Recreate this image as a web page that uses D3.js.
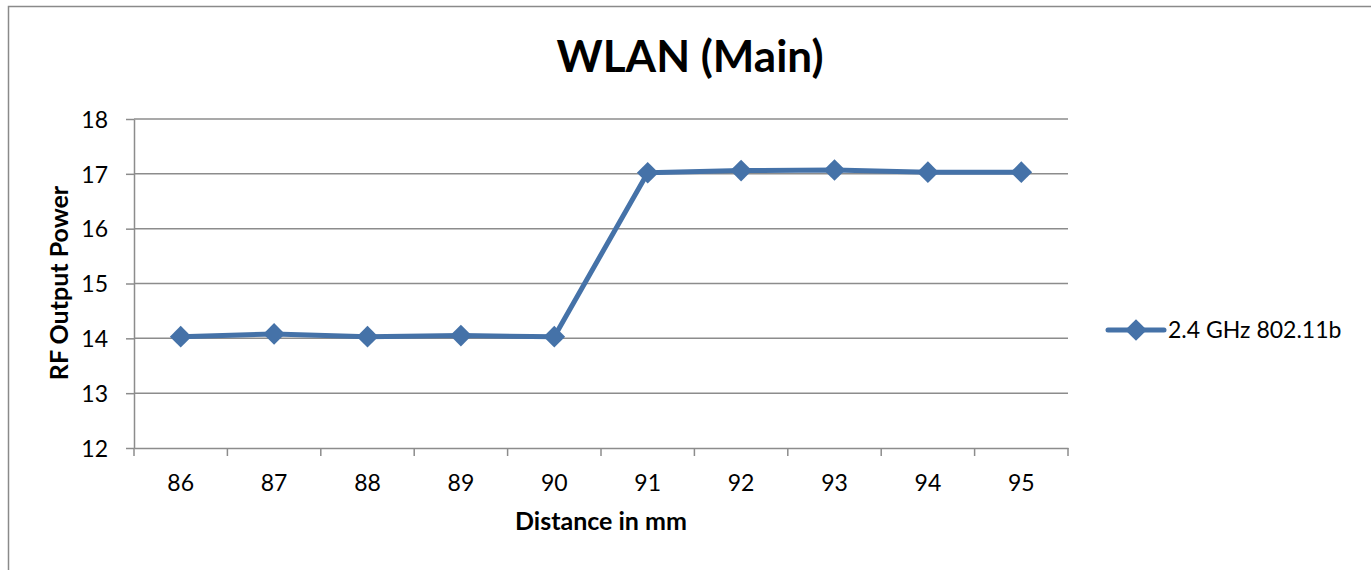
<!DOCTYPE html>
<html>
<head>
<meta charset="utf-8">
<script src="https://cdn.jsdelivr.net/npm/d3@7"></script>
<style>
  body { margin: 0; background: #fff; }
  text { font-family: Lato, "Open Sans", sans-serif; fill: #000; }
</style>
</head>
<body>
<div id="holder"></div>
<script>
var width = 1371;
var height = 570;

// chart data
var distances = ["86", "87", "88", "89", "90", "91", "92", "93", "94", "95"];
var power = [14.03, 14.08, 14.03, 14.05, 14.03, 17.02, 17.06, 17.07, 17.03, 17.03];
var yTicks = [12, 13, 14, 15, 16, 17, 18];
var seriesName = "2.4 GHz 802.11b";

var plotLeft = 134, plotRight = 1068, plotTop = 119, plotBottom = 448;
var lineColor = "#4572a8";
var gridColor = "#8c8c8c";

var svg = d3.select("#holder")
  .append("svg")
  .attr("width", width)
  .attr("height", height);

// outer chart border (runs off the right and bottom edges)
svg.append("rect")
  .attr("x", 8.5)
  .attr("y", 6.5)
  .attr("width", width + 20)
  .attr("height", height + 20)
  .attr("fill", "none")
  .attr("stroke", "#8a8a8a")
  .attr("stroke-width", 1.5);

var x = d3.scaleBand()
  .domain(distances)
  .range([plotLeft, plotRight])
  .padding(0);

var y = d3.scaleLinear()
  .domain([12, 18])
  .range([plotBottom, plotTop]);

// gridlines
svg.append("g")
  .selectAll("line")
  .data(yTicks.slice(1))
  .enter().append("line")
  .attr("x1", plotLeft)
  .attr("x2", plotRight)
  .attr("y1", d => y(d))
  .attr("y2", d => y(d))
  .attr("stroke", gridColor)
  .attr("stroke-width", 1.5);

// y axis
var yAxis = svg.append("g")
  .attr("transform", "translate(" + plotLeft + ",0)")
  .call(d3.axisLeft(y).tickValues(yTicks).tickFormat(d3.format("d"))
    .tickSize(8).tickSizeOuter(0).tickPadding(18));
yAxis.select(".domain").attr("stroke", gridColor).attr("stroke-width", 1.5);
yAxis.selectAll(".tick line").attr("stroke", gridColor).attr("stroke-width", 1.5);
yAxis.selectAll(".tick text")
  .attr("font-size", 23)
  .attr("fill", "#000")
  .attr("dy", "0.36em");

// x axis (labels centred in categories, ticks on boundaries)
var xAxis = svg.append("g")
  .attr("transform", "translate(0," + plotBottom + ")")
  .call(d3.axisBottom(x).tickSize(0).tickSizeOuter(0).tickPadding(27));
xAxis.select(".domain").attr("stroke", gridColor).attr("stroke-width", 1.5);
xAxis.selectAll(".tick text")
  .attr("font-size", 23)
  .attr("fill", "#000");

var bounds = distances.map(d => x(d)).concat([plotRight]);
xAxis.selectAll(".bound")
  .data(bounds)
  .enter().append("line")
  .attr("class", "bound")
  .attr("x1", d => d)
  .attr("x2", d => d)
  .attr("y1", 0)
  .attr("y2", 8)
  .attr("stroke", gridColor)
  .attr("stroke-width", 1.5);

// series line
var line = d3.line()
  .x((d, i) => x(distances[i]) + x.bandwidth() / 2)
  .y(d => y(d));

svg.append("path")
  .datum(power)
  .attr("d", line)
  .attr("fill", "none")
  .attr("stroke", lineColor)
  .attr("stroke-width", 5)
  .attr("stroke-linejoin", "round");

var diamond = d3.symbol().type(d3.symbolDiamond2).size(300);

svg.append("g")
  .selectAll("path")
  .data(power)
  .enter().append("path")
  .attr("d", diamond)
  .attr("transform", (d, i) => "translate(" + (x(distances[i]) + x.bandwidth() / 2) + "," + y(d) + ")")
  .attr("fill", lineColor);

// title
svg.append("text")
  .attr("x", 690)
  .attr("y", 72)
  .attr("text-anchor", "middle")
  .attr("font-size", 44)
  .attr("font-weight", "bold")
  .text("WLAN (Main)");

// axis titles
svg.append("text")
  .attr("x", 601)
  .attr("y", 530)
  .attr("text-anchor", "middle")
  .attr("font-size", 25)
  .attr("font-weight", "bold")
  .text("Distance in mm");

svg.append("text")
  .attr("transform", "translate(68,283) rotate(-90)")
  .attr("text-anchor", "middle")
  .attr("font-size", 25)
  .attr("font-weight", "bold")
  .text("RF Output Power");

// legend
var legend = svg.append("g").attr("transform", "translate(1108,330)");
legend.append("line")
  .attr("x1", 0)
  .attr("x2", 56)
  .attr("stroke", lineColor)
  .attr("stroke-width", 5)
  .attr("stroke-linecap", "round");
legend.append("path")
  .attr("d", diamond)
  .attr("transform", "translate(28,0)")
  .attr("fill", lineColor);
legend.append("text")
  .attr("x", 60)
  .attr("y", 8)
  .attr("font-size", 23)
  .text(seriesName);
</script>
</body>
</html>
